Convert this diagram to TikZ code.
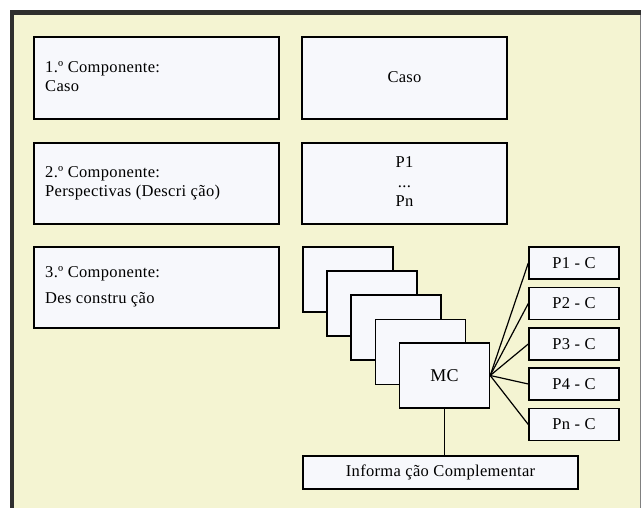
\documentclass[tikz,border=0pt]{standalone}
\usepackage{fontspec}
\setmainfont{Liberation Serif}[LetterSpace=2]
\definecolor{cream}{HTML}{F4F4D2}
\definecolor{boxfill}{HTML}{F7F8FC}
\definecolor{framedark}{HTML}{2E2E2E}
\begin{document}
\begin{tikzpicture}[x=1pt,y=-1pt,
  box/.style={draw=black, line width=1.4pt, fill=boxfill, rectangle, inner sep=0pt},
  txt/.style={font=\fontsize{16.5}{19}\selectfont, inner sep=0pt},
  bigtxt/.style={font=\fontsize{18}{21}\selectfont},
  link/.style={line width=1.2pt}]
\useasboundingbox (0,0) rectangle (641,508);
% frame
\fill[white] (0,0) rectangle (641,508);
\fill[cream] (12,13) rectangle (641,508);
\fill[framedark] (10,10) rectangle (641,15);
\fill[framedark] (10,10) rectangle (14,508);
\draw[gray, line width=1pt] (640.5,15) -- (640.5,508);
% left column
\node[box, minimum width=245pt, minimum height=82pt] (l1) at (156.5,78) {};
\node[box, minimum width=245pt, minimum height=81pt] (l2) at (156.5,183.5) {};
\node[box, minimum width=245pt, minimum height=81pt] (l3) at (156.5,287.5) {};
\node[txt, anchor=base west] (t1a) at (45,73) {1.º Componente:};
\node[txt, anchor=base west] (t1b) at (45,92) {Caso};
\node[txt, anchor=base west] (t2a) at (45,178) {2.º Componente:};
\node[txt, anchor=base west] (t2b) at (45,197) {Perspectivas (Descri ção)};
\node[txt, anchor=base west] (t3a) at (45,278) {3.º Componente:};
\node[txt, anchor=base west] (t3b) at (45,304) {Des constru ção};
% right column
\node[box, minimum width=205pt, minimum height=82pt] (r1) at (404.5,78) {};
\node[box, minimum width=205pt, minimum height=81pt] (r2) at (404.5,183.5) {};
\node[txt, anchor=base] (caso) at (404.5,83) {Caso};
\node[txt, anchor=base] (p1) at (404.5,168) {P1};
\node[txt, anchor=base] (pdots) at (404.5,188) {...};
\node[txt, anchor=base] (pn) at (404.5,207) {Pn};
% stack
\node[box, minimum width=90pt, minimum height=65pt] (sa) at (348,279.5) {};
\node[box, minimum width=90pt, minimum height=65pt] (sb) at (372,303.5) {};
\node[box, minimum width=90pt, minimum height=65pt] (sc) at (396,327.5) {};
\node[box, minimum width=90pt, minimum height=65pt] (sd) at (420.5,352) {};
\node[box, minimum width=90pt, minimum height=65pt, bigtxt] (mc) at (444.5,375.5) {MC};
% P-C boxes
\node[box, minimum width=90pt, minimum height=32pt, txt] (pc1) at (574,263) {P1 - C};
\node[box, minimum width=90pt, minimum height=32pt, txt] (pc2) at (574,303.5) {P2 - C};
\node[box, minimum width=90pt, minimum height=32pt, txt] (pc3) at (574,344) {P3 - C};
\node[box, minimum width=90pt, minimum height=32pt, txt] (pc4) at (574,384) {P4 - C};
\node[box, minimum width=90pt, minimum height=32pt, txt] (pcn) at (574,424.5) {Pn - C};
% info
\node[box, minimum width=275pt, minimum height=33pt, txt] (info) at (440.5,472.5) {Informa ção Complementar};
% links
\foreach \t in {pc1,pc2,pc3,pc4,pcn} \draw[link] (mc.east) -- (\t.west);
\draw[link] (mc.south) -- (mc.south |- info.north);
\end{tikzpicture}
\end{document}
